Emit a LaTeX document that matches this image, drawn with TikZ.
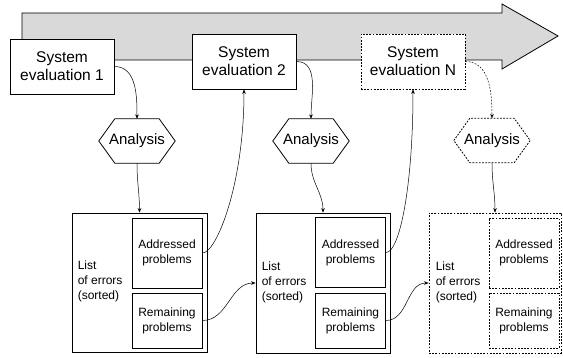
\documentclass[tikz,border=0pt]{standalone}
\usepackage{fontspec}
\setmainfont{Liberation Sans}
\usetikzlibrary{arrows.meta,calc}
\begin{document}
\begin{tikzpicture}[x=1pt,y=1pt,
 evalbox/.style={draw,fill=white,line width=0.8pt,minimum width=104pt,minimum height=55pt,align=center,font=\fontsize{15.5}{18}\selectfont,inner sep=0pt},
 outerbox/.style={draw,line width=0.8pt,inner sep=0pt},
 innerbox/.style={draw,line width=0.9pt,minimum width=70pt,align=center,font=\fontsize{12}{15}\selectfont,inner sep=0pt},
 hexnode/.style={minimum width=76pt,minimum height=44pt,inner sep=0pt,font=\fontsize{15}{18}\selectfont},
 hexline/.style={draw,line width=0.8pt},
 conn/.style={line width=0.5pt,-{Stealth[length=4.5pt,width=3.6pt]}},
 dsh/.style={dash pattern=on 1.8pt off 1.4pt},
 lst/.style={align=left,anchor=west,font=\fontsize{12}{15}\selectfont,inner sep=0pt}
]
\useasboundingbox (0,0) rectangle (563,-358);

% big timeline arrow
\draw[fill=gray!30,line width=0.8pt] (22,-13) -- (502,-13) -- (502,-4) -- (558,-36) -- (502,-69) -- (502,-60) -- (22,-60) -- cycle;

% system evaluations
\node[evalbox] (s1) at (62,-66.5) {System\\evaluation 1};
\node[evalbox] (s2) at (244,-61.5) {System\\evaluation 2};
\node[evalbox,dsh] (sN) at (413,-61.5) {System\\evaluation N};

% analysis hexagons
\node[hexnode] (an1) at (137,-141) {Analysis};
\node[hexnode] (an2) at (311,-141) {Analysis};
\node[hexnode] (anN) at (492,-140.5) {Analysis};
\foreach \h/\st in {an1/solid,an2/solid,anN/dsh}{
  \draw[hexline,\st] (\h.west) -- ([xshift=16pt]\h.north west) -- ([xshift=-16pt]\h.north east) -- (\h.east) -- ([xshift=-16pt]\h.south east) -- ([xshift=16pt]\h.south west) -- cycle;
}

% outer lists
\node[outerbox,minimum width=135pt,minimum height=139pt] (o1) at (139.5,-282.5) {};
\node[outerbox,minimum width=134pt,minimum height=140pt] (o2) at (323,-283) {};
\node[outerbox,dsh,minimum width=132pt,minimum height=140pt] (o3) at (495,-283) {};

\node[lst] (l1) at ([xshift=6pt,yshift=1pt]o1.west) {List\\of errors\\(sorted)};
\node[lst] (l2) at ([xshift=6pt,yshift=1pt]o2.west) {List\\of errors\\(sorted)};
\node[lst] (l3) at ([xshift=7pt,yshift=1pt]o3.west) {List\\of errors\\(sorted)};

% inner boxes
\node[innerbox,minimum height=70pt] (ad1) at (167,-253) {Addressed\\problems};
\node[innerbox,minimum height=55pt] (re1) at (167,-320.5) {Remaining\\problems};
\node[innerbox,minimum height=70pt] (ad2) at (350.5,-252.5) {Addressed\\problems};
\node[innerbox,minimum height=55pt] (re2) at (350.5,-320.5) {Remaining\\problems};
\node[innerbox,dsh,minimum height=70pt] (ad3) at (524,-253) {Addressed\\problems};
\node[innerbox,dsh,minimum height=55pt] (re3) at (524,-320.5) {Remaining\\problems};

% connectors
\draw[conn] (s1.east) to[out=0,in=90] (an1.north);
\draw[conn] (an1.south) to[out=-90,in=90] (o1.north);
\draw[conn] (ad1.east) .. controls +(14,0) and +(0,-95) .. (s2.south);
\draw[conn] (re1.east) to[out=0,in=180] (o2.west);
\draw[conn] (s2.east) to[out=0,in=90] (an2.north);
\draw[conn] (an2.south) to[out=-90,in=90] (o2.north);
\draw[conn] (ad2.east) .. controls +(14,0) and +(0,-95) .. (sN.south);
\draw[conn] (re2.east) to[out=0,in=180] (o3.west);
\draw[conn,dsh] (sN.east) to[out=0,in=90] (anN.north);
\draw[conn] (anN.south) to[out=-90,in=90] (o3.north);
\end{tikzpicture}
\end{document}
